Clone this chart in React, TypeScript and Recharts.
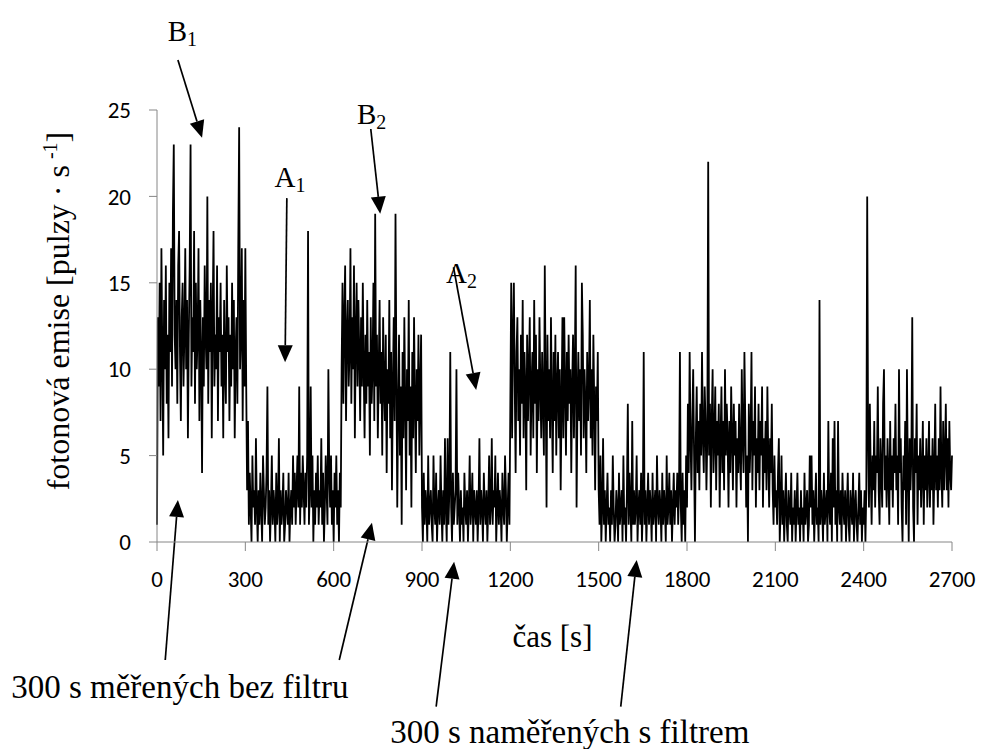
import React from 'react';
import { LineChart, Line, XAxis, YAxis, ReferenceLine, ReferenceDot, Label } from 'recharts';

// Photon counts sampled every 3 s, split into the nine 300 s measurement blocks.
const STEP = 3;
const blockStarts = [0, 306, 627, 900, 1200, 1500, 1797, 2103, 2409];

const blockB1 = [
  1, 13, 9, 15, 7, 17, 11, 5, 14, 10,
  16, 8, 12, 6, 15, 11, 17, 9, 19, 23,
  12, 10, 14, 8, 16, 18, 11, 7, 13, 15,
  9, 12, 17, 10, 14, 6, 12, 16, 23, 9,
  13, 11, 18, 8, 15, 10, 12, 17, 7, 14,
  11, 4, 13, 9, 16, 12, 10, 20, 8, 14,
  11, 15, 6, 13, 18, 9, 12, 10, 16, 7,
  13, 11, 15, 9, 12, 6, 14, 10, 8, 16,
  11, 13, 7, 12, 9, 15, 10, 14, 6, 11,
  13, 8, 17, 24, 10, 12, 17, 7, 14, 9,
  17, 9,
];
const blockA1 = [
  3, 7, 1, 4, 2, 0, 5, 2, 3, 1,
  6, 2, 0, 3, 1, 4, 2, 0, 5, 3,
  1, 2, 4, 9, 1, 3, 0, 2, 5, 1,
  3, 2, 0, 4, 1, 2, 6, 0, 3, 1,
  2, 4, 0, 1, 3, 2, 1, 4, 0, 2,
  3, 1, 5, 2, 4, 1, 3, 5, 2, 9,
  1, 4, 2, 5, 3, 1, 4, 2, 5, 18,
  1, 3, 9, 2, 5, 0, 3, 1, 4, 2,
  5, 1, 3, 2, 6, 1, 4, 0, 2, 5,
  3, 1, 10, 4, 2, 5, 1, 3, 0, 4,
  2, 5, 1, 3, 0, 4, 2,
];
const blockB2 = [
  10, 15, 8, 13, 16, 7, 12, 14, 9, 11,
  17, 8, 13, 10, 16, 6, 12, 15, 9, 14,
  11, 7, 13, 9, 15, 10, 6, 12, 8, 14,
  9, 11, 5, 13, 8, 10, 15, 7, 19, 9,
  12, 6, 10, 14, 8, 11, 5, 13, 9, 7,
  12, 4, 10, 8, 14, 6, 11, 3, 9, 13,
  7, 19, 10, 2, 8, 12, 5, 9, 1, 11,
  6, 13, 8, 3, 10, 7, 14, 5, 9, 2,
  11, 6, 13, 8, 4, 10, 7, 12, 5, 9,
  12,
];
const blockA2 = [
  2, 0, 4, 1, 3, 2, 0, 5, 1, 2,
  3, 1, 0, 5, 2, 1, 4, 0, 2, 3,
  1, 5, 2, 0, 3, 1, 6, 2, 0, 6,
  1, 3, 11, 2, 0, 4, 1, 2, 3, 10,
  1, 4, 2, 0, 3, 1, 2, 0, 4, 2,
  1, 3, 0, 2, 5, 1, 2, 4, 0, 3,
  2, 1, 3, 0, 2, 6, 1, 3, 2, 0,
  4, 2, 1, 3, 0, 2, 5, 1, 2, 6,
  1, 3, 2, 5, 0, 2, 4, 1, 3, 2,
  0, 4, 2, 1, 5, 3, 0, 2, 4, 1,
];
const blockB3 = [
  8, 15, 6, 12, 15, 9, 4, 11, 13, 7,
  10, 5, 12, 8, 14, 6, 11, 9, 3, 12,
  7, 10, 13, 5, 9, 11, 6, 14, 8, 12,
  4, 10, 7, 13, 9, 6, 11, 8, 5, 16,
  9, 2, 12, 7, 10, 6, 13, 8, 4, 11,
  7, 12, 5, 9, 11, 6, 10, 3, 8, 13,
  6, 13, 9, 5, 11, 7, 12, 8, 10, 4,
  9, 12, 6, 10, 16, 2, 8, 11, 7, 10,
  5, 15, 12, 6, 10, 8, 4, 11, 7, 9,
  14, 6, 10, 5, 12, 8, 3, 9, 7, 11,
];
const blockA3 = [
  3, 1, 5, 0, 2, 6, 1, 3, 0, 2,
  4, 1, 2, 0, 3, 1, 5, 2, 0, 1,
  3, 2, 0, 4, 1, 2, 3, 0, 5, 1,
  2, 0, 3, 8, 1, 4, 2, 0, 7, 1,
  3, 1, 2, 5, 0, 2, 3, 1, 4, 0,
  2, 11, 1, 3, 0, 2, 4, 1, 3, 2,
  0, 4, 1, 2, 3, 0, 5, 2, 1, 3,
  2, 0, 4, 1, 3, 2, 0, 5, 1, 2,
  4, 1, 3, 0, 2, 4, 1, 3, 2, 4,
  1, 3, 11, 2, 0, 4, 1, 3, 0,
];
const blockB4 = [
  5, 2, 8, 4, 11, 6, 3, 7, 10, 5,
  0, 6, 9, 4, 7, 3, 8, 5, 11, 6,
  4, 9, 7, 3, 6, 22, 5, 8, 2, 7,
  10, 4, 6, 9, 3, 7, 5, 8, 2, 6,
  9, 4, 7, 3, 10, 5, 8, 6, 2, 7,
  4, 9, 6, 3, 8, 5, 7, 2, 6, 4,
  8, 5, 3, 10, 6, 4, 11, 7, 2, 5,
  0, 8, 4, 6, 11, 3, 7, 5, 9, 2,
  6, 4, 8, 3, 7, 5, 9, 2, 6, 4,
  7, 3, 9, 5, 2, 6, 4, 8, 3, 1,
  5, 2,
];
const blockA4 = [
  3, 1, 4, 6, 0, 2, 5, 1, 3, 0,
  2, 4, 1, 0, 3, 2, 1, 4, 0, 2,
  1, 3, 0, 2, 4, 1, 2, 0, 3, 1,
  2, 0, 4, 1, 2, 3, 0, 1, 5, 2,
  5, 1, 3, 0, 2, 4, 1, 2, 0, 14,
  1, 3, 2, 0, 4, 1, 2, 3, 0, 7,
  2, 1, 4, 0, 6, 2, 7, 1, 3, 0,
  7, 2, 1, 3, 0, 4, 2, 1, 3, 0,
  2, 4, 1, 0, 3, 2, 1, 4, 0, 2,
  3, 1, 0, 2, 4, 1, 3, 0, 2, 1,
  3, 0,
];
const blockB5 = [
  3, 20, 6, 2, 8, 4, 1, 5, 3, 7,
  2, 5, 4, 9, 3, 1, 6, 4, 2, 8,
  10, 3, 5, 2, 6, 4, 1, 7, 3, 5,
  2, 6, 4, 8, 3, 5, 1, 10, 4, 6,
  2, 0, 5, 3, 7, 1, 10, 4, 0, 6,
  3, 5, 13, 2, 0, 6, 4, 8, 1, 5,
  3, 6, 2, 4, 7, 1, 5, 3, 6, 2,
  4, 7, 2, 5, 3, 6, 1, 4, 8, 3,
  5, 2, 6, 3, 9, 4, 2, 7, 3, 5,
  8, 3, 6, 2, 7, 4, 3, 5,
];

const blocks = [blockB1, blockA1, blockB2, blockA2, blockB3, blockA3, blockB4, blockA4, blockB5];

const timeTicks = [0, 300, 600, 900, 1200, 1500, 1800, 2100, 2400, 2700];
const emissionTicks = [0, 5, 10, 15, 20, 25];

const series = blocks.flatMap((block, k) =>
  block.map((value, i) => ({ t: blockStarts[k] + i * STEP, emise: value }))
);

// Callouts, in axis units [time s, counts].
const peakCallouts = [
  { letter: 'B', index: '1', text: [86, 28.97], from: [71, 27.9], to: [153, 23.4] },
  { letter: 'A', index: '1', text: [452, 20.54], from: [441, 19.9], to: [435, 10.4] },
  { letter: 'B', index: '2', text: [729, 24.19], from: [726, 23.9], to: [758, 19.0] },
  { letter: 'A', index: '2', text: [1034, 14.98], from: [1007, 15.9], to: [1084, 8.8] },
];
const blockNotes = [
  { text: '300 s měřených bez filtru', at: [77.5, -9.03] },
  { text: '300 s naměřených s filtrem', at: [1402, -11.63] },
];
const noteArrows = [
  { from: [28, -6.83], to: [71, 2.43] },
  { from: [619, -6.83], to: [730, 1.12] },
  { from: [948, -9.53], to: [1009, -1.14] },
  { from: [1575, -9.53], to: [1629, -1.04] },
];

const SERIF = '"Liberation Serif", "Times New Roman", serif';
const SANS = '"Carlito", "Liberation Sans", Arial, sans-serif';
const AXIS_GREY = '#868686';

const Arrow = (props: any) => {
  const { x1, y1, x2, y2 } = props;
  const dx = x2 - x1;
  const dy = y2 - y1;
  const len = Math.hypot(dx, dy) || 1;
  const ux = dx / len;
  const uy = dy / len;
  const head = 17;
  const half = 7.5;
  const bx = x2 - ux * head;
  const by = y2 - uy * head;
  const pts = `${x2},${y2} ${bx - uy * half},${by + ux * half} ${bx + uy * half},${by - ux * half}`;
  return (
    <g>
      <line x1={x1} y1={y1} x2={bx} y2={by} stroke="#000" strokeWidth={1.7} />
      <polygon points={pts} fill="#000" />
    </g>
  );
};

const calloutText = (letter: string, index: string) => (props: any) => (
  <text
    x={props.cx}
    y={props.cy}
    textAnchor="middle"
    fontFamily={SERIF}
    fontSize={29}
    fill="#000"
  >
    {letter}
    <tspan fontSize={20} dy={5}>{index}</tspan>
  </text>
);

const noteText = (text: string) => (props: any) => (
  <text x={props.cx} y={props.cy} textAnchor="middle" fontFamily={SERIF} fontSize={33} fill="#000">
    {text}
  </text>
);

const YTitle = (props: any) => {
  const vb = props.viewBox || { x: 156, y: 110, width: 1, height: 432 };
  const x = vb.x + vb.width - 88;
  const y = vb.y + vb.height / 2 - 15;
  return (
    <text
      transform={`translate(${x},${y}) rotate(-90)`}
      textAnchor="middle"
      fontFamily={SERIF}
      fontSize={32}
      fill="#000"
    >
      fotonová emise [pulzy · s
      <tspan fontSize={20} dx={6} dy={-12}>-1</tspan>
      <tspan dy={12}>]</tspan>
    </text>
  );
};

const XTitle = (props: any) => {
  const vb = props.viewBox || { x: 157, y: 542, width: 795 };
  return (
    <text
      x={vb.x + vb.width / 2 - 2}
      y={vb.y + 105}
      textAnchor="middle"
      fontFamily={SERIF}
      fontSize={31}
      fill="#000"
    >
      čas [s]
    </text>
  );
};

const tickStyle = { fontFamily: SANS, fontSize: 23, fill: '#000' };

export default function App() {
  return (
    <div style={{ position: 'absolute', left: 0, top: 0, width: 982, height: 749, background: '#fff' }}>
      <LineChart
        width={982}
        height={749}
        data={series}
        margin={{ top: 110, right: 30, bottom: 206, left: 156 }}
      >
        <XAxis
          type="number"
          dataKey="t"
          domain={[0, 2700]}
          ticks={timeTicks}
          interval={0}
          height={1}
          tickSize={9}
          tickMargin={20}
          stroke={AXIS_GREY}
          tick={tickStyle}
          tickLine={{ stroke: AXIS_GREY }}
          axisLine={{ stroke: AXIS_GREY }}
          label={<Label content={XTitle} />}
        />
        <YAxis
          type="number"
          domain={[0, 25]}
          ticks={emissionTicks}
          interval={0}
          width={1}
          tickSize={8}
          tickMargin={18}
          stroke={AXIS_GREY}
          tick={tickStyle}
          tickLine={{ stroke: AXIS_GREY }}
          axisLine={{ stroke: AXIS_GREY }}
          label={<Label content={YTitle} />}
        />
        <Line
          type="linear"
          dataKey="emise"
          stroke="#000"
          strokeWidth={1.8}
          dot={false}
          activeDot={false}
          isAnimationActive={false}
        />
        {peakCallouts.map((c, i) => (
          <ReferenceLine
            key={`pa${i}`}
            segment={[{ x: c.from[0], y: c.from[1] }, { x: c.to[0], y: c.to[1] }]}
            ifOverflow="visible"
            shape={Arrow}
          />
        ))}
        {peakCallouts.map((c, i) => (
          <ReferenceDot
            key={`pt${i}`}
            x={c.text[0]}
            y={c.text[1]}
            r={0}
            ifOverflow="visible"
            shape={calloutText(c.letter, c.index)}
          />
        ))}
        {noteArrows.map((a, i) => (
          <ReferenceLine
            key={`na${i}`}
            segment={[{ x: a.from[0], y: a.from[1] }, { x: a.to[0], y: a.to[1] }]}
            ifOverflow="visible"
            shape={Arrow}
          />
        ))}
        {blockNotes.map((n, i) => (
          <ReferenceDot
            key={`nt${i}`}
            x={n.at[0]}
            y={n.at[1]}
            r={0}
            ifOverflow="visible"
            shape={noteText(n.text)}
          />
        ))}
      </LineChart>
    </div>
  );
}
